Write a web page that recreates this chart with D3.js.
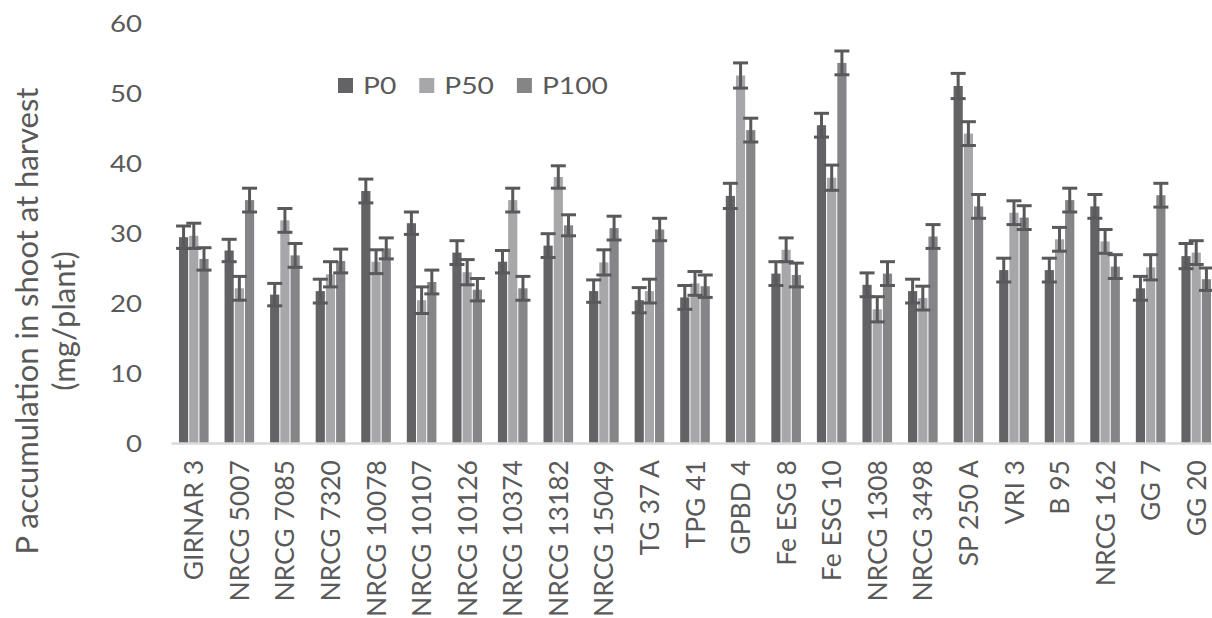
<!DOCTYPE html>
<html><head><meta charset="utf-8">
<script src="https://cdn.jsdelivr.net/npm/d3@7/dist/d3.min.js"></script>
<style>
html,body{margin:0;padding:0;background:#fff;overflow:hidden}
text{font-family:Lato,"Open Sans",sans-serif;fill:#595959}
</style></head>
<body>
<svg id="chart" width="1212" height="618"></svg>
<script>
const categories = ["GIRNAR 3","NRCG 5007","NRCG 7085","NRCG 7320","NRCG 10078","NRCG 10107","NRCG 10126","NRCG 10374","NRCG 13182","NRCG 15049","TG 37 A","TPG 41","GPBD 4","Fe ESG 8","Fe ESG 10","NRCG 1308","NRCG 3498","SP 250 A","VRI 3","B 95","NRCG 162","GG 7","GG 20"];
const seriesNames = ["P0","P50","P100"];
const P0   = [29.4,27.5,21.2,21.7,36.0,31.4,27.2,25.9,28.2,21.7,20.4,20.8,35.3,24.2,45.4,22.6,21.7,51.0,24.7,24.7,33.8,22.1,26.7];
const P50  = [29.6,22.1,31.8,24.1,25.9,20.4,24.4,34.7,38.0,25.8,21.7,22.8,52.5,27.6,37.9,19.1,20.7,44.2,32.9,29.1,28.8,25.1,27.2];
const P100 = [26.3,34.7,26.8,26.0,27.8,23.0,21.9,22.1,31.1,30.7,30.5,22.4,44.7,24.0,54.3,24.2,29.5,33.8,32.2,34.7,25.2,35.4,23.4];
const E0   = [1.6,1.6,1.6,1.7,1.7,1.6,1.7,1.6,1.7,1.6,1.8,1.7,1.8,1.7,1.7,1.7,1.7,1.8,1.7,1.7,1.7,1.7,1.8];
const E50  = [1.8,1.7,1.7,1.8,1.7,1.9,1.8,1.7,1.6,1.8,1.7,1.7,1.8,1.7,1.8,1.8,1.7,1.7,1.7,1.7,1.7,1.8,1.7];
const E100 = [1.6,1.7,1.7,1.7,1.5,1.7,1.6,1.7,1.5,1.7,1.6,1.6,1.7,1.7,1.7,1.7,1.7,1.7,1.7,1.7,1.7,1.7,1.6];
const yTicks = [0,10,20,30,40,50,60];
const titleLines = ["P accumulation in shoot at harvest","(mg/plant)"];
const colors = ["#636366","#a7a7a9","#858588"];

const values = [P0,P50,P100];
const errors = [E0,E50,E100];
const data = categories.map((c,i)=>({cat:c, vals: seriesNames.map((s,k)=>({s, v:values[k][i], e:errors[k][i]}))}));

const svg = d3.select("#chart");
const SX = 1.2; // horizontal text stretch
const x0 = d3.scaleBand().domain(categories).range([171,1219]).paddingInner(0.35).paddingOuter(0.175);
const x1 = d3.scaleBand().domain(seriesNames).range([0,x0.bandwidth()]).paddingInner(0.1);
const y = d3.scaleLinear().domain([0,60]).range([443,23]);
const color = d3.scaleOrdinal().domain(seriesNames).range(colors);

// y axis (labels only)
const ya = svg.append("g").attr("transform","translate(171,0)")
  .call(d3.axisLeft(y).tickValues(yTicks).tickSize(0).tickPadding(0));
ya.select(".domain").remove();
ya.selectAll("text").attr("x",0).attr("dx",0)
  .attr("transform",`translate(-29,0) scale(${SX},1)`)
  .style("font-size","23px").style("fill","#595959").attr("dy","0.36em");

// bars
const g = svg.append("g").selectAll("g").data(data).join("g")
  .attr("transform",d=>`translate(${x0(d.cat)},0)`);
g.selectAll("rect").data(d=>d.vals).join("rect")
  .attr("x",d=>x1(d.s)).attr("width",x1.bandwidth())
  .attr("y",d=>y(d.v)).attr("height",d=>y(0)-y(d.v))
  .attr("fill",d=>color(d.s));

// x axis baseline + labels
const xa = svg.append("g").attr("transform",`translate(0,${y(0)})`)
  .call(d3.axisBottom(x0).tickSize(0).tickPadding(0));
xa.select(".domain").attr("stroke","#d9d9d9").attr("stroke-width",2.5);
xa.selectAll("text").attr("y",0).attr("dy","0.36em")
  .attr("transform","translate(0,17) rotate(-90)")
  .attr("text-anchor","end").style("font-size","26.5px").style("fill","#595959");

// error bars
const eb = g.selectAll("g.err").data(d=>d.vals).join("g").attr("class","err")
  .attr("stroke","#59595c").attr("stroke-width",3);
eb.append("line").attr("x1",d=>x1(d.s)+x1.bandwidth()/2).attr("x2",d=>x1(d.s)+x1.bandwidth()/2)
  .attr("y1",d=>y(d.v+d.e)).attr("y2",d=>y(d.v-d.e));
eb.append("line").attr("x1",d=>x1(d.s)+x1.bandwidth()/2-7.5).attr("x2",d=>x1(d.s)+x1.bandwidth()/2+7.5)
  .attr("y1",d=>y(d.v+d.e)).attr("y2",d=>y(d.v+d.e));
eb.append("line").attr("x1",d=>x1(d.s)+x1.bandwidth()/2-7.5).attr("x2",d=>x1(d.s)+x1.bandwidth()/2+7.5)
  .attr("y1",d=>y(d.v-d.e)).attr("y2",d=>y(d.v-d.e));

// title
const tcy = 321;
svg.append("text").attr("transform",`translate(38,${tcy}) rotate(-90)`).attr("text-anchor","middle")
  .style("font-size","31px").text(titleLines[0]);
svg.append("text").attr("transform",`translate(75,${tcy}) rotate(-90)`).attr("text-anchor","middle")
  .style("font-size","31px").text(titleLines[1]);

// legend
const leg = svg.append("g").attr("transform","translate(338,78)");
let lx = 0;
seriesNames.forEach(s=>{
  const it = leg.append("g").attr("transform",`translate(${lx},0)`);
  it.append("rect").attr("width",15).attr("height",15).attr("fill",color(s));
  const t = it.append("text").attr("transform",`translate(25,15.5) scale(${SX},1)`)
    .style("font-size","23.5px").text(s);
  lx += 25 + t.node().getComputedTextLength()*SX + 23;
});
</script>
</body></html>
